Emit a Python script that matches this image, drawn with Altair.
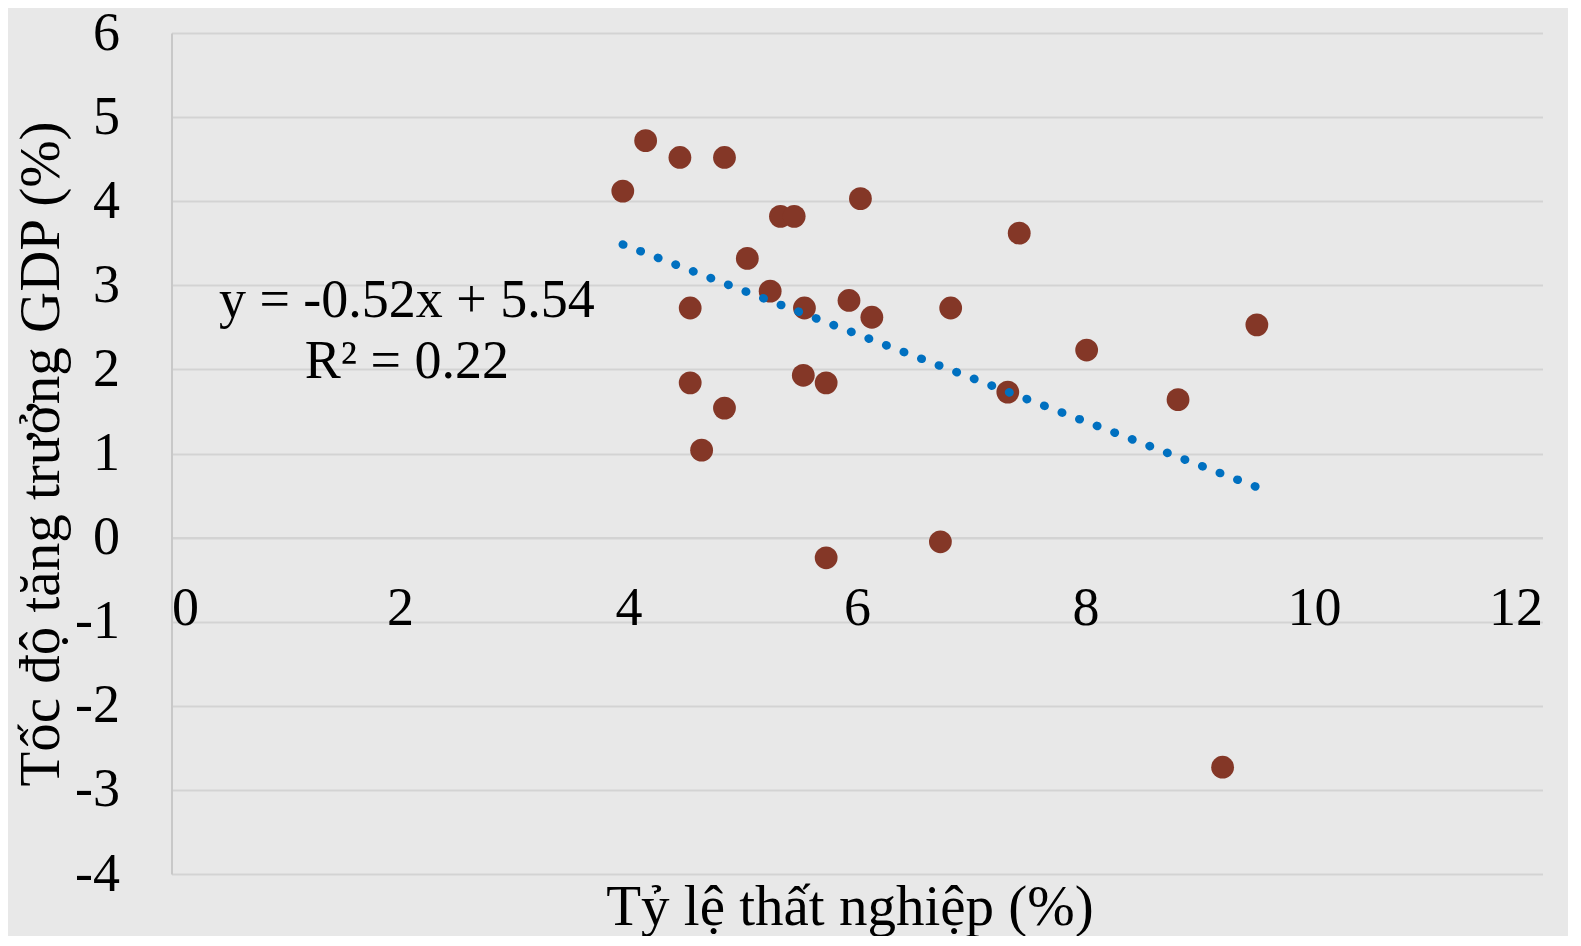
import altair as alt
import pandas as pd

# Data
unemployment = [3.95, 4.15, 4.45, 4.84, 5.33, 5.45, 6.03, 7.42, 5.04, 5.24,
                4.54, 5.54, 5.93, 6.13, 6.82, 9.50, 8.01, 4.54, 5.53, 5.73,
                4.84, 7.32, 8.81, 4.64, 5.73, 6.73, 9.20]
gdp_growth = [4.12, 4.72, 4.52, 4.52, 3.82, 3.82, 4.03, 3.62, 3.32, 2.93,
              2.73, 2.73, 2.82, 2.62, 2.73, 2.53, 2.23, 1.84, 1.93, 1.84,
              1.54, 1.73, 1.64, 1.04, -0.24, -0.05, -2.73]

SLOPE = -0.52
INTERCEPT = 5.54
equation_lines = ["y = -0.52x + 5.54", "R² = 0.22"]
equation_x = [2.06, 2.06]
equation_y = [2.81, 2.09]

x_ticks = [0, 2, 4, 6, 8, 10, 12]
y_ticks = [-4, -3, -2, -1, 0, 1, 2, 3, 4, 5, 6]

X_TITLE = "Tỷ lệ thất nghiệp (%)"
Y_TITLE = "Tốc độ tăng trưởng GDP (%)"

points = pd.DataFrame({"x": unemployment, "y": gdp_growth})
trend_x = [min(unemployment), max(unemployment)]
trend = pd.DataFrame({"x": trend_x, "y": [SLOPE * v + INTERCEPT for v in trend_x]})
eq = pd.DataFrame({"x": equation_x, "y": equation_y, "label": equation_lines})

FONT = "Liberation Serif"
GRID = "#D3D3D3"

x_axis = alt.Axis(
    values=x_ticks, grid=False, ticks=False, tickSize=0,
    offset=-336.4, labelPadding=87, labelBaseline="alphabetic",
    labelExpr="'' + datum.value",
    labelFont=FONT, labelFontSize=54, labelColor="#000000",
    domainColor=GRID, domainWidth=2,
    titleFont=FONT, titleFontSize=57, titleFontWeight="normal", titleColor="#000000",
    titleX=678, titleY=386.4, titleBaseline="alphabetic", titleAlign="center",
)
y_axis = alt.Axis(
    values=y_ticks, grid=True, gridColor=GRID, gridWidth=2,
    ticks=False, tickSize=0, labelPadding=52, labelBaseline="middle",
    labelExpr="'' + datum.value",
    labelFont=FONT, labelFontSize=54, labelColor="#000000",
    domainColor="#C8C8C8", domainWidth=2,
    titleFont=FONT, titleFontSize=57, titleFontWeight="normal", titleColor="#000000",
    titleAngle=270, titleX=-113, titleY=420.5, titleBaseline="alphabetic", titleAlign="center",
)

xs = alt.Scale(domain=[0, 12], nice=False, zero=False)
ys = alt.Scale(domain=[-4, 6], nice=False, zero=False)

X = alt.X("x:Q", scale=xs, axis=x_axis, title=X_TITLE)
Y = alt.Y("y:Q", scale=ys, axis=y_axis, title=Y_TITLE)

pts = alt.Chart(points).mark_circle(size=520, color="#843727", opacity=1).encode(x=X, y=Y)
line = alt.Chart(trend).mark_line(
    color="#0070C0", strokeWidth=8.5, strokeDash=[0.5, 18.3], strokeCap="round"
).encode(x=X, y=Y)
txt = alt.Chart(eq).mark_text(
    font=FONT, fontSize=54, color="#000000", align="center", baseline="middle"
).encode(x=X, y=Y, text="label:N")

chart = alt.layer(pts, line, txt).properties(
    width=1371, height=841,
    autosize=alt.AutoSizeParams(type="none"),
    padding={"left": 163.5, "top": 25, "right": 25.5, "bottom": 62},
    background="#E8E8E8",
).configure_view(strokeWidth=0)

chart.save("out.html", embed_options={"renderer": "svg", "actions": False})
